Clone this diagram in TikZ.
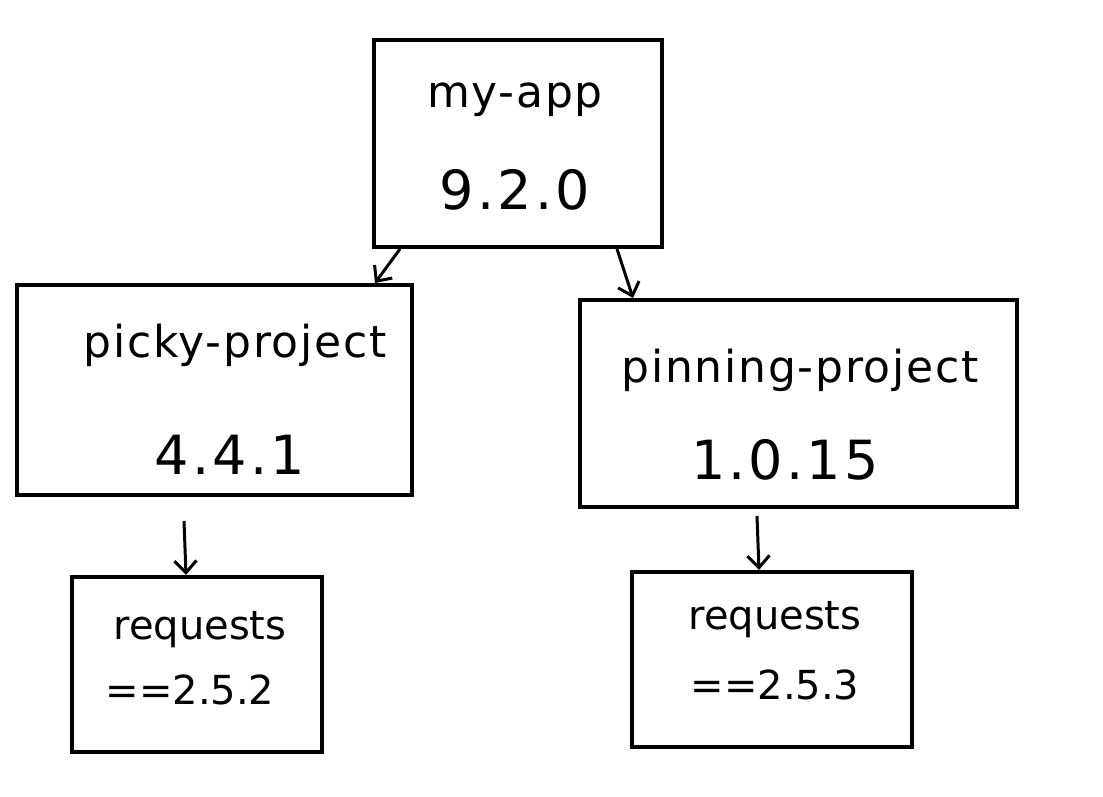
\documentclass[tikz,border=0pt]{standalone}
\usepackage{fontspec}
\setmainfont{DejaVu Sans}
\usetikzlibrary{arrows.meta}
\begin{document}
\begin{tikzpicture}[x=1pt,y=-1pt,
  box/.style={draw,line width=4pt,inner sep=0pt,anchor=north west},
  lbl/.style={font=\fontsize{44}{48}\selectfont\addfontfeature{LetterSpace=4}},
  vlbl/.style={font=\fontsize{54}{58}\selectfont\addfontfeature{LetterSpace=6}},
  slbl/.style={font=\fontsize{40}{44}\selectfont},
  conn/.style={line width=3pt,-{Straight Barb[length=12pt,width=22pt,line width=3pt]}}]
\useasboundingbox (0,0) rectangle (1103,797);
\node[box,minimum width=288pt,minimum height=207pt] (app) at (372,38) {};
\node[box,minimum width=395pt,minimum height=210pt] (picky) at (15,283) {};
\node[box,minimum width=437pt,minimum height=207pt] (pin) at (578,298) {};
\node[box,minimum width=250pt,minimum height=175pt] (rl) at (70,575) {};
\node[box,minimum width=280pt,minimum height=175pt] (rr) at (630,570) {};
\node[lbl] (t1) at (515,100) {my-app};
\node[vlbl] (t2) at (515,190) {9.2.0};
\node[lbl] (t3) at (235,345) {picky-project};
\node[vlbl] (t4) at (230,455) {4.4.1};
\node[lbl] (t5) at (800,370) {pinning-project};
\node[vlbl] (t6) at (785,460) {1.0.15};
\node[slbl] (t7) at (200,630) {requests};
\node[slbl] (t8) at (190,690) {==2.5.2};
\node[slbl] (t9) at (775,620) {requests};
\node[slbl] (t10) at (775,685) {==2.5.3};
\draw[conn] (app.south -| 400,0) -- (picky.north -| 375,0);
\draw[conn] (app.south -| 617,0) -- (pin.north -| 633,0);
\draw[conn] ([yshift=-24pt]picky.south -| 184,0) -- (rl.north -| 186,0);
\draw[conn] ([yshift=-7pt]pin.south -| 757,0) -- (rr.north -| 759,0);
\end{tikzpicture}
\end{document}
